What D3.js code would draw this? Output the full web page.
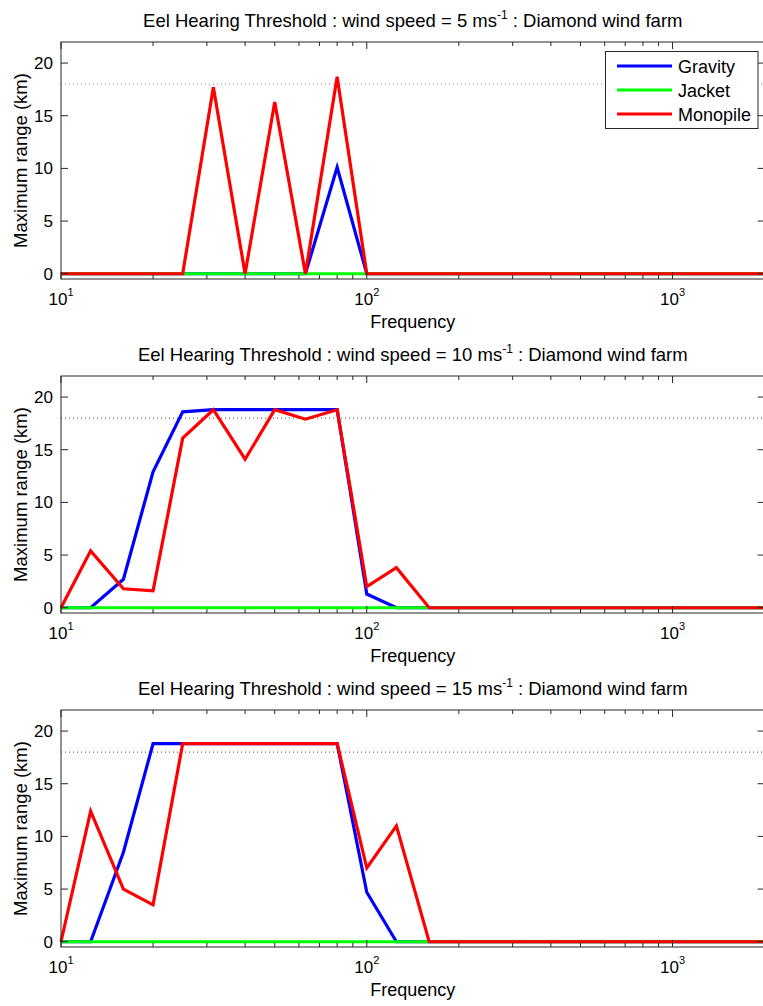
<!DOCTYPE html>
<html><head><meta charset="utf-8">
<script src="https://cdn.jsdelivr.net/npm/d3@7"></script>
<style>body{margin:0;background:#fff}svg text{font-family:"Liberation Sans",Arial,sans-serif;fill:#000}</style>
</head><body><svg id="c" width="763" height="1006"></svg>
<script>
const freqs = [10,12.5,16,20,25,31.5,40,50,63,80,100,125,160,200,250,315,400,500,630,800,1000,1250,1600,2000];
const windSpeeds = ["5","10","15"];
const seriesNames = ["Gravity","Jacket","Monopile"];
const seriesColors = ["#0000ff","#00ff00","#ff0000"];
const gravity5  = [0,0,0,0,0,0,0,0,0,10.1,0,0,0,0,0,0,0,0,0,0,0,0,0,0];
const jacket5   = [0,0,0,0,0,0,0,0,0,0,0,0,0,0,0,0,0,0,0,0,0,0,0,0];
const monopile5 = [0,0,0,0,0,17.7,0,16.3,0,18.7,0,0,0,0,0,0,0,0,0,0,0,0,0,0];
const gravity10  = [0,0,2.7,12.9,18.6,18.8,18.8,18.8,18.8,18.8,1.3,0,0,0,0,0,0,0,0,0,0,0,0,0];
const jacket10   = [0,0,0,0,0,0,0,0,0,0,0,0,0,0,0,0,0,0,0,0,0,0,0,0];
const monopile10 = [0,5.4,1.8,1.6,16.1,18.8,14.1,18.8,17.9,18.8,2.0,3.8,0,0,0,0,0,0,0,0,0,0,0,0];
const gravity15  = [0,0,8.5,18.8,18.8,18.8,18.8,18.8,18.8,18.8,4.7,0,0,0,0,0,0,0,0,0,0,0,0,0];
const jacket15   = [0,0,0,0,0,0,0,0,0,0,0,0,0,0,0,0,0,0,0,0,0,0,0,0];
const monopile15 = [0,12.4,5.0,3.5,18.8,18.8,18.8,18.8,18.8,18.8,7.0,11.0,0,0,0,0,0,0,0,0,0,0,0,0];
const threshold = 18;
const yTicks = [0,5,10,15,20];
const xMajor = [10,100,1000];
const xMajorExp = ["1","2","3"];
const xMinor = [20,30,40,50,60,70,80,90,200,300,400,500,600,700,800,900,2000];

const panels = [
  [gravity5,jacket5,monopile5],
  [gravity10,jacket10,monopile10],
  [gravity15,jacket15,monopile15]
];

const svg = d3.select("#c");
const L = 61, R = 764.6, H = 237, tops = [42,376,710];
const x = d3.scaleLog().domain([10,2000]).range([L,R]);
const axisColor = "#262626";

panels.forEach((ser,pi)=>{
  const top = tops[pi], bot = top+H;
  const y = d3.scaleLinear().domain([-0.5,22]).range([bot,top]);
  const g = svg.append("g");
  g.append("line").attr("x1",L).attr("x2",R).attr("y1",y(threshold)).attr("y2",y(threshold))
    .attr("stroke",pi===0?"#888":"#444").attr("stroke-width",1).attr("stroke-dasharray","1,3");
  const line = d3.line().x((d,i)=>x(freqs[i])).y(d=>y(d));
  ser.forEach((s,si)=>{
    g.append("path").datum(s).attr("d",line).attr("fill","none")
      .attr("stroke",seriesColors[si]).attr("stroke-width",3.2).attr("stroke-linejoin","miter");
  });
  g.append("rect").attr("x",L).attr("y",top).attr("width",R-L).attr("height",H)
    .attr("fill","none").attr("stroke",axisColor).attr("stroke-width",1);
  xMajor.forEach(v=>{
    g.append("line").attr("x1",x(v)).attr("x2",x(v)).attr("y1",bot).attr("y2",bot-7).attr("stroke",axisColor);
    g.append("line").attr("x1",x(v)).attr("x2",x(v)).attr("y1",top).attr("y2",top+7).attr("stroke",axisColor);
  });
  xMinor.forEach(v=>{
    g.append("line").attr("x1",x(v)).attr("x2",x(v)).attr("y1",bot).attr("y2",bot-4).attr("stroke",axisColor);
    g.append("line").attr("x1",x(v)).attr("x2",x(v)).attr("y1",top).attr("y2",top+4).attr("stroke",axisColor);
  });
  xMajor.forEach((v,i)=>{
    const t = g.append("text").attr("x",x(v)).attr("y",bot+26).attr("text-anchor","middle").attr("font-size",17);
    t.append("tspan").text("10");
    t.append("tspan").attr("dy",-9).attr("font-size",11).text(xMajorExp[i]);
  });
  yTicks.forEach(v=>{
    g.append("line").attr("x1",L).attr("x2",L+7).attr("y1",y(v)).attr("y2",y(v)).attr("stroke",axisColor);
    g.append("line").attr("x1",R).attr("x2",R-7).attr("y1",y(v)).attr("y2",y(v)).attr("stroke",axisColor);
    g.append("text").attr("x",53).attr("y",y(v)+6).attr("text-anchor","end").attr("font-size",17).text(v);
  });
  g.append("text").attr("x",(L+R)/2).attr("y",bot+49).attr("text-anchor","middle").attr("font-size",18).text("Frequency");
  g.append("text").attr("transform",`translate(27,${(top+bot)/2}) rotate(-90)`).attr("text-anchor","middle")
    .attr("font-size",18.5).text("Maximum range (km)");
  const tt = g.append("text").attr("x",(L+R)/2).attr("y",top-15).attr("text-anchor","middle").attr("font-size",18.5);
  tt.append("tspan").text(`Eel Hearing Threshold : wind speed = ${windSpeeds[pi]} ms`);
  tt.append("tspan").attr("dy",-8).attr("font-size",12).text("-1");
  tt.append("tspan").attr("dy",8).text(" : Diamond wind farm");

  if(pi===0){
    const lg = g.append("g");
    lg.append("rect").attr("x",605.5).attr("y",51.5).attr("width",152.5).attr("height",77)
      .attr("fill","#fff").attr("stroke",axisColor);
    seriesNames.forEach((n,si)=>{
      const cy = 66+si*24;
      lg.append("line").attr("x1",617).attr("x2",672).attr("y1",cy).attr("y2",cy)
        .attr("stroke",seriesColors[si]).attr("stroke-width",3.2);
      lg.append("text").attr("x",678).attr("y",cy+6.5).attr("font-size",18).text(n);
    });
  }
});
</script></body></html>
